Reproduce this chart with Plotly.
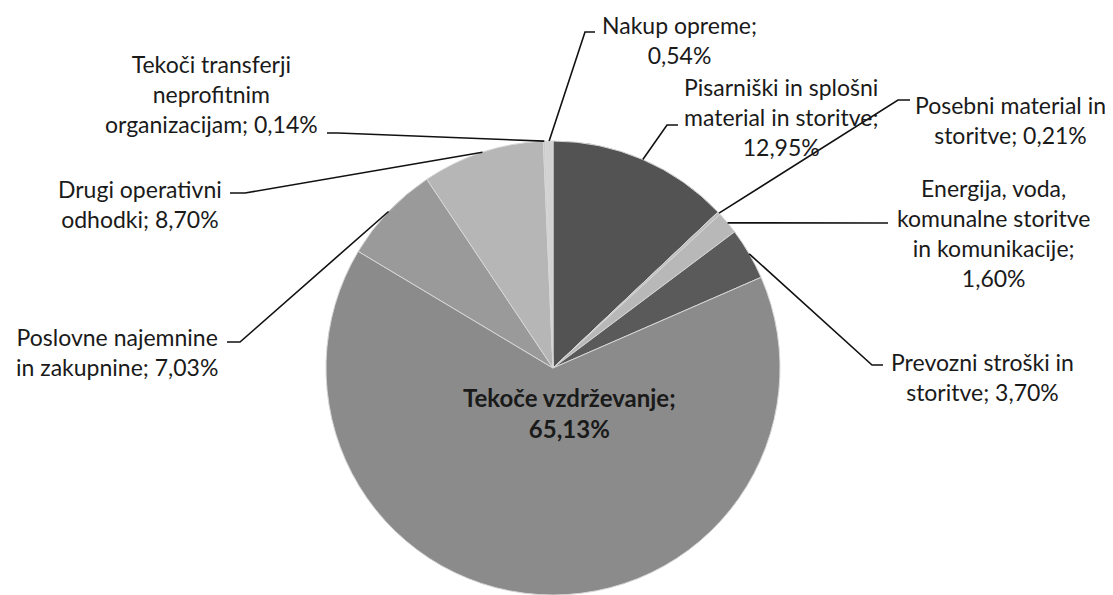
import math
import plotly.graph_objects as go

# ---------------- data ----------------
categories = [
    "Pisarniški in splošni material in storitve",
    "Posebni material in storitve",
    "Energija, voda, komunalne storitve in komunikacije",
    "Prevozni stroški in storitve",
    "Tekoče vzdrževanje",
    "Poslovne najemnine in zakupnine",
    "Drugi operativni odhodki",
    "Tekoči transferji neprofitnim organizacijam",
    "Nakup opreme",
]
values = [12.95, 0.21, 1.60, 3.70, 65.13, 7.03, 8.70, 0.14, 0.54]
label_templates = [
    "Pisarniški in splošni<br>material in storitve;<br>{v}",
    "Posebni material in<br>storitve; {v}",
    "Energija, voda,<br>komunalne storitve<br>in komunikacije;<br>{v}",
    "Prevozni stroški in<br>storitve; {v}",
    "<b>Tekoče vzdrževanje;<br>{v}</b>",
    "Poslovne najemnine<br>in zakupnine; {v}",
    "Drugi operativni<br>odhodki; {v}",
    "Tekoči transferji<br>neprofitnim<br>organizacijam; {v}",
    "Nakup opreme;<br>{v}",
]
colors = ["#535353", "#bdbdbd", "#b8b8b8", "#5a5a5a", "#8b8b8b",
          "#9a9a9a", "#b6b6b6", "#c9c9c9", "#d2d2d2"]

# ---------------- layout (window pixels) ----------------
W, H = 1113, 595
OFF = 8  # page body margin shifts the figure by this many pixels
CX, CY, R = 553, 368, 227
label_pos = [(781, 117), (1010, 120), (993, 233), (982, 377), (569, 413),
             (117, 352), (140, 204), (211, 94), (679, 40)]
leader_elbow = [(667, 125), (898, 100), (888, 223), (872, 365), None,
                (240, 342), (245, 193), (338, 133), (585, 32)]
leader_end = [(678, 125), (910, 100), (888, 223), (883, 365), None,
              (227, 342), (230, 193), (327, 133), (595, 32)]


def px(x):
    return (x - OFF) / W


def py(y):
    return 1 - (y - OFF) / H


def fmt(v):
    return f"{v:.2f}".replace(".", ",") + "%"


fig = go.Figure()
fig.add_trace(go.Pie(
    labels=categories, values=values, sort=False, direction="clockwise",
    rotation=0,
    marker=dict(colors=colors, line=dict(color="#d6d6d6", width=1)),
    textinfo="none", showlegend=False,
    domain=dict(x=[px(CX - R), px(CX + R)], y=[max(0, py(CY + R)), py(CY - R)]),
))

total = sum(values)
cum = 0.0
shapes = []
annotations = []
for i, v in enumerate(values):
    mid = cum + v / 2
    cum += v
    ang = 2 * math.pi * mid / total
    sx = CX + R * math.sin(ang)
    sy = CY - R * math.cos(ang)
    if leader_elbow[i] is not None:
        ex, ey = leader_elbow[i]
        tx, ty = leader_end[i]
        shapes.append(dict(
            type="path", xref="paper", yref="paper",
            path=f"M {px(sx)} {py(sy)} L {px(ex)} {py(ey)} L {px(tx)} {py(ty)}",
            line=dict(color="#111111", width=1.6),
        ))
    lx, ly = label_pos[i]
    annotations.append(dict(
        x=px(lx), y=py(ly), xref="paper", yref="paper",
        text=label_templates[i].format(v=fmt(v)),
        showarrow=False, xanchor="center", yanchor="middle", align="center",
        font=dict(family="Lato", size=23 if i != 4 else 24, color="#1a1a1a"),
    ))

fig.update_layout(
    width=W, height=H,
    margin=dict(l=0, r=0, t=0, b=0),
    paper_bgcolor="white", plot_bgcolor="white",
    shapes=shapes, annotations=annotations,
)

fig.write_html("out.html")
